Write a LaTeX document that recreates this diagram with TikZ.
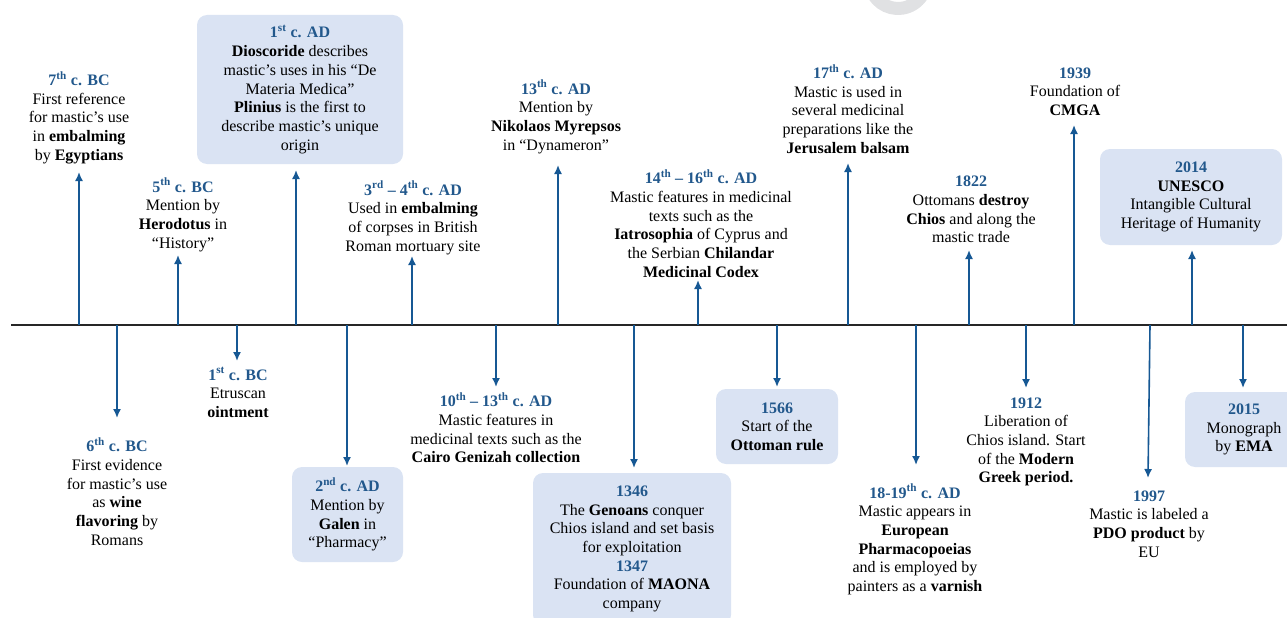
\documentclass[tikz,border=0pt]{standalone}
\usepackage{fontspec}
\setmainfont{Liberation Serif}
\usetikzlibrary{arrows.meta}
\definecolor{tblue}{RGB}{34,88,140}
\definecolor{ablue}{RGB}{22,88,148}
\definecolor{boxfill}{RGB}{218,227,243}
\definecolor{wmark}{RGB}{224,225,227}
\newcommand\ttl[1]{{\color{tblue}\bfseries #1}}
\newcommand\sps[1]{\textsuperscript{#1}}
\tikzset{
  txt/.style={align=center, inner sep=0pt, font=\fontsize{16}{18.7}\selectfont},
  bx/.style={txt, fill=boxfill, rounded corners=10pt},
  arr/.style={draw=ablue, line width=1.6pt, -{Latex[length=9pt,width=8pt]}},
  axis/.style={draw=black!85, line width=1.3pt}
}
\begin{document}
\begin{tikzpicture}[x=1pt,y=1pt]
\useasboundingbox (0,0) rectangle (1287,-618);
% watermark fragment
\draw[wmark, line width=13pt] (898,20) ++(200:28.5) arc (200:340:28.5);
% axis
\coordinate (axL) at (11,-325);
\coordinate (axR) at (1287,-325);
\draw[axis] (axL) -- (axR);

% upper events
\node[txt] (t1) at (79,-117.5) {\ttl{7\sps{th} c. BC}\\First reference\\for mastic's use\\in \textbf{embalming}\\by \textbf{Egyptians}};
\node[bx, minimum width=206pt, minimum height=149pt] (t2) at (300,-89.5) {\ttl{1\sps{st} c. AD}\\\textbf{Dioscoride} describes\\mastic's uses in his “De\\Materia Medica”\\\textbf{Plinius} is the first to\\describe mastic's unique\\origin};
\node[txt] (t3) at (183,-215) {\ttl{5\sps{th} c. BC}\\Mention by\\\textbf{Herodotus} in\\“History”};
\node[txt] (t4) at (413,-218) {\ttl{3\sps{rd} – 4\sps{th} c. AD}\\Used in \textbf{embalming}\\of corpses in British\\Roman mortuary site};
\node[txt] (t5) at (556,-117) {\ttl{13\sps{th} c. AD}\\Mention by\\\textbf{Nikolaos Myrepsos}\\in “Dynameron”};
\node[txt] (t6) at (701,-223.5) {\ttl{14\sps{th} – 16\sps{th} c. AD}\\Mastic features in medicinal\\texts such as the\\\textbf{Iatrosophia} of Cyprus and\\the Serbian \textbf{Chilandar}\\\textbf{Medicinal Codex}};
\node[txt] (t7) at (848,-109) {\ttl{17\sps{th} c. AD}\\Mastic is used in\\several medicinal\\preparations like the\\\textbf{Jerusalem balsam}};
\node[txt] (t8) at (1075,-91.5) {\ttl{1939}\\Foundation of\\\textbf{CMGA}};
\node[txt] (t9) at (971,-209.5) {\ttl{1822}\\Ottomans \textbf{destroy}\\\textbf{Chios} and along the\\mastic trade};
\node[bx, minimum width=182pt, minimum height=96pt] (t10) at (1191,-197) {\ttl{2014}\\\textbf{UNESCO}\\Intangible Cultural\\Heritage of Humanity};

% lower events
\node[txt] (t11) at (117,-491.5) {\ttl{6\sps{th} c. BC}\\First evidence\\for mastic's use\\as \textbf{wine}\\\textbf{flavoring} by\\Romans};
\node[txt] (t12) at (238,-392.5) {\ttl{1\sps{st} c. BC}\\Etruscan\\\textbf{ointment}};
\node[bx, minimum width=111pt, minimum height=95pt] (t13) at (347.5,-514.5) {\ttl{2\sps{nd} c. AD}\\Mention by\\\textbf{Galen} in\\“Pharmacy”};
\node[txt] (t14) at (496,-428) {\ttl{10\sps{th} – 13\sps{th} c. AD}\\Mastic features in\\medicinal texts such as the\\\textbf{Cairo Genizah collection}};
\node[bx, minimum width=198pt, minimum height=152pt] (t15) at (632,-549) {\ttl{1346}\\The \textbf{Genoans} conquer\\Chios island and set basis\\for exploitation\\\ttl{1347}\\Foundation of \textbf{MAONA}\\company};
\node[bx, minimum width=122pt, minimum height=75pt] (t16) at (777,-426.5) {\ttl{1566}\\Start of the\\\textbf{Ottoman rule}};
\node[txt] (t17) at (915,-539.5) {\ttl{18-19\sps{th} c. AD}\\Mastic appears in\\\textbf{European}\\\textbf{Pharmacopoeias}\\and is employed by\\painters as a \textbf{varnish}};
\node[txt] (t18) at (1026,-442) {\ttl{1912}\\Liberation of\\Chios island. Start\\of the \textbf{Modern}\\\textbf{Greek period.}};
\node[txt] (t19) at (1149,-524) {\ttl{1997}\\Mastic is labeled a\\\textbf{PDO product} by\\EU};
\node[bx, minimum width=118pt, minimum height=75pt] (t20) at (1244,-429.5) {\ttl{2015}\\Monograph\\by \textbf{EMA}};

% axis anchor points and arrow ends
\foreach \n/\x/\y in {1/79/-172, 2/296/-170, 3/178/-255, 4/412/-256, 5/558/-165,
  6/698/-280, 7/848/-163, 8/1074/-125, 9/969/-250, 10/1192/-250,
  11/117/-418, 12/237/-361, 13/347/-466, 14/496/-387, 15/634/-468,
  16/777/-387, 17/916/-465, 18/1026/-388, 19/1148/-478, 20/1243/-388}{
  \coordinate (s\n) at (\x,-325);
  \coordinate (e\n) at (\x,\y);
}
\coordinate (s19) at (1150,-325);
\foreach \n in {1,...,20}{\draw[arr] (s\n) -- (e\n);}
\end{tikzpicture}
\end{document}
